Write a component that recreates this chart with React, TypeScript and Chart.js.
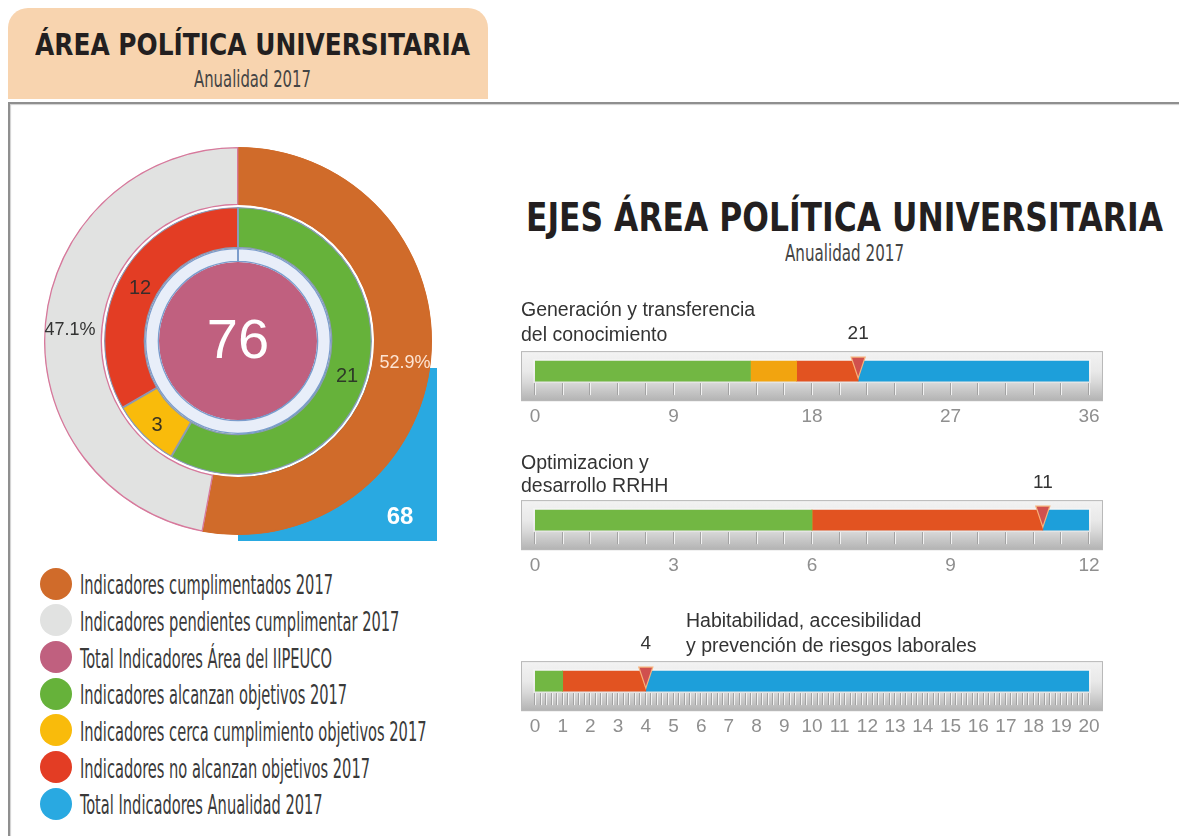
import React, { useEffect, useRef } from 'react';
import { Chart, registerables } from 'chart.js';

Chart.register(...registerables);

// ---------- data ----------
const pageTitle = 'ÁREA POLÍTICA UNIVERSITARIA';
const pageSubtitle = 'Anualidad 2017';
const axesTitle = 'EJES ÁREA POLÍTICA UNIVERSITARIA';
const axesSubtitle = 'Anualidad 2017';

const outerLabels = ['Indicadores cumplimentados 2017', 'Indicadores pendientes cumplimentar 2017'];
const outerValues = [36, 32];
const innerLabels = [
  'Indicadores alcanzan objetivos 2017',
  'Indicadores cerca cumplimiento objetivos 2017',
  'Indicadores no alcanzan objetivos 2017',
];
const innerValues = [21, 3, 12];
const totalAreaLabel = 'Total Indicadores Área del IIPEUCO';
const totalArea = 76;
const totalYearLabel = 'Total Indicadores Anualidad 2017';
const totalYear = 68;

const axisNames = [
  ['Generación y transferencia', 'del conocimiento'],
  ['Optimizacion y', 'desarrollo RRHH'],
  ['Habitabilidad, accesibilidad', 'y prevención de riesgos laborales'],
];
const axisReached = [14, 6, 1];
const axisNear = [3, 0, 0];
const axisNotReached = [4, 5, 3];
const axisPending = [15, 1, 16];
const axisMax = [36, 12, 20];
const axisStep = [9, 3, 1];
const axisMinorTicks = [20, 20, 100];

// ---------- styles ----------
const SANS = '"Liberation Sans", Arial, sans-serif';
const NARROW = '"Liberation Sans Narrow", "DejaVu Sans Condensed", "Liberation Sans", sans-serif';
const HEAVY = '"DejaVu Sans", "Liberation Sans", sans-serif';

const C = {
  orange: '#d06b2a',
  gray: '#e1e2e1',
  pink: '#c0607f',
  green: '#66b23a',
  yellow: '#f9bb0b',
  red: '#e33d24',
  blue: '#29a9e1',
  ice: '#e8eef9',
  iceEdge: '#7b9ccc',
  grayEdge: '#d7799c',
  barGreen: '#72b743',
  barYellow: '#f2a40f',
  barRed: '#e25321',
  barBlue: '#1d9fda',
  marker: '#d0504e',
  markerEdge: '#f6b27c',
};

const legendItems = [
  { label: outerLabels[0], color: C.orange },
  { label: outerLabels[1], color: C.gray },
  { label: totalAreaLabel, color: C.pink },
  { label: innerLabels[0], color: C.green },
  { label: innerLabels[1], color: C.yellow },
  { label: innerLabels[2], color: C.red },
  { label: totalYearLabel, color: C.blue },
];

// ---------- text helpers ----------
let mctx: CanvasRenderingContext2D | null = null;
function textWidth(text: string, font: string) {
  if (!mctx) mctx = document.createElement('canvas').getContext('2d');
  mctx!.font = font;
  return mctx!.measureText(text).width;
}

function Fit(props: {
  text: string; x: number; cy: number; w?: number; scale?: number; size: number;
  family: string; weight?: number | string; color: string; align?: 'left' | 'center';
}) {
  const { text, x, cy, w, size, family, color } = props;
  const weight = props.weight ?? 400;
  const font = `${weight} ${size}px ${family}`;
  const nat = textWidth(text, font);
  const s = props.scale ?? (w ? w / nat : 1);
  const width = nat * s;
  const left = props.align === 'center' ? x - width / 2 : x;
  return (
    <div
      style={{
        position: 'absolute', left, top: cy - size * 0.49, whiteSpace: 'nowrap',
        font, lineHeight: `${size}px`, color, transform: `scaleX(${s})`, transformOrigin: '0 0',
      }}
    >
      {text}
    </div>
  );
}

// ---------- donut ----------
const donutDecor = {
  id: 'donutDecor',
  beforeDatasetsDraw(chart: any) {
    const arc = chart.getDatasetMeta(0).data[0];
    const { x, y, outerRadius } = arc;
    const ctx = chart.ctx;
    ctx.save();
    ctx.fillStyle = C.blue;
    ctx.fillRect(x, y + 27, outerRadius + 5, outerRadius - 21);
    ctx.restore();
  },
  afterDatasetsDraw(chart: any) {
    const arc = chart.getDatasetMeta(0).data[0];
    const { x, y } = arc;
    const ctx = chart.ctx;
    const total = outerValues.reduce((a, b) => a + b, 0);
    const pct = (v: number) => ((v / total) * 100).toFixed(1) + '%';
    const draw = (t: string, dx: number, dy: number, size: number, color: string, bold = false) => {
      ctx.font = `${bold ? 'bold ' : ''}${size}px ${SANS}`;
      ctx.fillStyle = color;
      ctx.textAlign = 'center';
      ctx.textBaseline = 'middle';
      ctx.fillText(t, x + dx, y + dy);
    };
    ctx.save();
    draw(pct(outerValues[1]), -168, -11, 18, '#333333');
    draw(pct(outerValues[0]), 167, 22, 18, '#fde4d3');
    draw(String(innerValues[2]), -98, -53, 20, '#3a2c2a');
    draw(String(innerValues[1]), -81, 84, 20, '#3a3320');
    draw(String(innerValues[0]), 109, 35, 20, '#2e3a28');
    draw(String(totalArea), 0, 2, 56, '#ffffff');
    draw(String(totalYear), 162, 176, 24, '#ffffff', true);
    ctx.restore();
  },
};

function Donut() {
  const ref = useRef<HTMLCanvasElement>(null);
  useEffect(() => {
    const chart = new Chart(ref.current as HTMLCanvasElement, {
      type: 'doughnut',
      data: {
        labels: [...outerLabels, ...innerLabels],
        datasets: [
          { data: outerValues, backgroundColor: [C.orange, C.gray], borderColor: [C.orange, C.grayEdge], borderWidth: 1, borderAlign: 'inner', weight: 58 } as any,
          { data: [1], backgroundColor: ['#ffffff'], borderWidth: 0, weight: 2 } as any,
          { data: innerValues, backgroundColor: [C.green, C.yellow, C.red], borderColor: '#8a9bb8', borderWidth: 1, borderAlign: 'inner', weight: 41 } as any,
          { data: [1], backgroundColor: [C.ice], borderColor: C.iceEdge, borderWidth: 1, borderAlign: 'inner', weight: 14 } as any,
          { data: [totalArea], backgroundColor: [C.pink], borderWidth: 0, weight: 79 } as any,
        ],
      },
      options: {
        animation: false,
        responsive: false,
        events: [],
        radius: 194,
        cutout: 0,
        layout: { padding: 0 },
        plugins: { legend: { display: false }, tooltip: { enabled: false } },
      } as any,
      plugins: [donutDecor],
    });
    return () => chart.destroy();
  }, []);
  return (
    <canvas ref={ref} width={420} height={420}
      style={{ position: 'absolute', left: 28, top: 131, width: 420, height: 420 }} />
  );
}

// ---------- gauges ----------
const gaugeDecor = {
  id: 'gaugeDecor',
  beforeDatasetsDraw(chart: any, _args: any, opts: any) {
    const { ctx, chartArea } = chart;
    const xs = chart.scales.x;
    const bar = chart.getDatasetMeta(0).data[0];
    const bTop = bar.y - bar.height / 2;
    const bBot = bar.y + bar.height / 2;
    const top = bTop - 10;
    const bottom = bBot + 20;
    const left = chartArea.left - 14;
    const right = chartArea.right + 14;
    ctx.save();
    const g = ctx.createLinearGradient(0, top, 0, bottom);
    g.addColorStop(0, '#f3f3f3');
    g.addColorStop(0.4, '#e9e9e9');
    g.addColorStop(0.62, '#d9d9d9');
    g.addColorStop(1, '#b2b2b2');
    ctx.fillStyle = g;
    ctx.fillRect(left, top, right - left, bottom - top);
    ctx.strokeStyle = '#b9b9b9';
    ctx.lineWidth = 1;
    ctx.strokeRect(left + 0.5, top + 0.5, right - left - 1, bottom - top - 1);
    ctx.fillStyle = 'rgba(255,255,255,0.35)';
    ctx.fillRect(chartArea.left - 2, bTop - 2, chartArea.right - chartArea.left + 4, bar.height + 4);
    const n = opts.minor;
    const max = xs.max;
    for (let k = 0; k <= n; k++) {
      const px = Math.round(xs.getPixelForValue((max * k) / n));
      ctx.fillStyle = '#a3a3a3';
      ctx.fillRect(px - 1, bBot + 2, 1, 12);
      ctx.fillStyle = '#f2f2f2';
      ctx.fillRect(px, bBot + 2, 1, 12);
    }
    ctx.restore();
  },
  afterDatasetsDraw(chart: any, _args: any, opts: any) {
    const { ctx } = chart;
    const xs = chart.scales.x;
    const bar = chart.getDatasetMeta(0).data[0];
    const bTop = bar.y - bar.height / 2;
    const bBot = bar.y + bar.height / 2;
    const px = xs.getPixelForValue(opts.value);
    ctx.save();
    ctx.beginPath();
    ctx.moveTo(px - 7, bTop - 4);
    ctx.lineTo(px + 7, bTop - 4);
    ctx.lineTo(px, bBot - 3);
    ctx.closePath();
    ctx.fillStyle = C.marker;
    ctx.fill();
    ctx.strokeStyle = C.markerEdge;
    ctx.lineWidth = 1.2;
    ctx.stroke();
    ctx.font = `19px ${SANS}`;
    ctx.fillStyle = '#333333';
    ctx.textAlign = 'center';
    ctx.textBaseline = 'middle';
    ctx.fillText(String(opts.value), px, bar.y - 37);
    ctx.restore();
  },
};

const GAUGE_CENTERS = [370.5, 519.5, 681];
const GAUGE_TEXT = [
  { left: 521, y: [310, 335] },
  { left: 521, y: [463, 486] },
  { left: 686, y: [621, 646] },
];

function Gauge({ i }: { i: number }) {
  const ref = useRef<HTMLCanvasElement>(null);
  useEffect(() => {
    const value = axisReached[i] + axisNear[i] + axisNotReached[i];
    const chart = new Chart(ref.current as HTMLCanvasElement, {
      type: 'bar',
      data: {
        labels: [axisNames[i].join(' ')],
        datasets: [
          { label: innerLabels[0], data: [axisReached[i]], backgroundColor: C.barGreen },
          { label: innerLabels[1], data: [axisNear[i]], backgroundColor: C.barYellow },
          { label: innerLabels[2], data: [axisNotReached[i]], backgroundColor: C.barRed },
          { label: outerLabels[1], data: [axisPending[i]], backgroundColor: C.barBlue },
        ],
      },
      options: {
        indexAxis: 'y',
        animation: false,
        responsive: false,
        events: [],
        layout: { padding: { left: 30, right: 36, top: 45, bottom: 4 } },
        datasets: { bar: { barThickness: 20, borderWidth: 0, borderSkipped: false } },
        scales: {
          x: {
            stacked: true, min: 0, max: axisMax[i],
            grid: { display: false, drawTicks: false },
            border: { display: false },
            ticks: {
              stepSize: axisStep[i], autoSkip: false, maxRotation: 0, padding: 9,
              color: '#8f8f8f', font: { family: SANS, size: 19 },
            },
          },
          y: { stacked: true, display: false },
        },
        plugins: {
          legend: { display: false },
          tooltip: { enabled: false },
          gaugeDecor: { value, minor: axisMinorTicks[i] },
        },
      } as any,
      plugins: [gaugeDecor],
    });
    return () => chart.destroy();
  }, [i]);
  const H = 140;
  const top = GAUGE_CENTERS[i] - 70;
  return (
    <canvas ref={ref} width={620} height={H}
      style={{ position: 'absolute', left: 505, top, width: 620, height: H }} />
  );
}

// ---------- app ----------
export default function App() {
  const legendFont = `400 27px ${NARROW}`;
  const legendScale = 253 / textWidth(legendItems[0].label, legendFont);
  return (
    <div style={{ position: 'absolute', left: 0, top: 0, width: 1179, height: 836, overflow: 'hidden', background: '#ffffff' }}>
      <div style={{ position: 'absolute', left: 8, top: 8, width: 480, height: 91, background: '#f8d4af', borderRadius: '20px 20px 0 0' }} />
      <div style={{ position: 'absolute', left: 8, top: 102, width: 1200, height: 800, borderTop: '2px solid #8f8f8f', borderLeft: '2px solid #8f8f8f', boxShadow: 'inset 1px 1px 1px #d0d0d0' }} />

      <Fit text={pageTitle} x={252} cy={44.5} w={435} size={30} family={HEAVY} weight={700} color="#231f20" align="center" />
      <Fit text={pageSubtitle} x={252} cy={79.5} w={117} size={23} family={NARROW} color="#444444" align="center" />

      <Donut />

      {legendItems.map((it, k) => {
        const cy = 583.5 + k * 36.7;
        return (
          <React.Fragment key={k}>
            <div style={{ position: 'absolute', left: 40, top: cy - 16, width: 32, height: 32, borderRadius: '50%', background: it.color }} />
            <Fit text={it.label} x={80} cy={cy + 1} scale={legendScale} size={27} family={NARROW} color="#3a3a3a" />
          </React.Fragment>
        );
      })}

      <Fit text={axesTitle} x={844.5} cy={217.5} w={637} size={39} family={HEAVY} weight={700} color="#231f20" align="center" />
      <Fit text={axesSubtitle} x={844.5} cy={253} w={119} size={23} family={NARROW} color="#444444" align="center" />

      {axisNames.map((_, i) => <Gauge key={i} i={i} />)}

      {axisNames.map((lines, i) => (
        <React.Fragment key={'t' + i}>
          {lines.map((ln, j) => (
            <Fit key={j} text={ln} x={GAUGE_TEXT[i].left} cy={GAUGE_TEXT[i].y[j]} size={19.5} family={SANS} color="#333333" />
          ))}
        </React.Fragment>
      ))}
    </div>
  );
}
